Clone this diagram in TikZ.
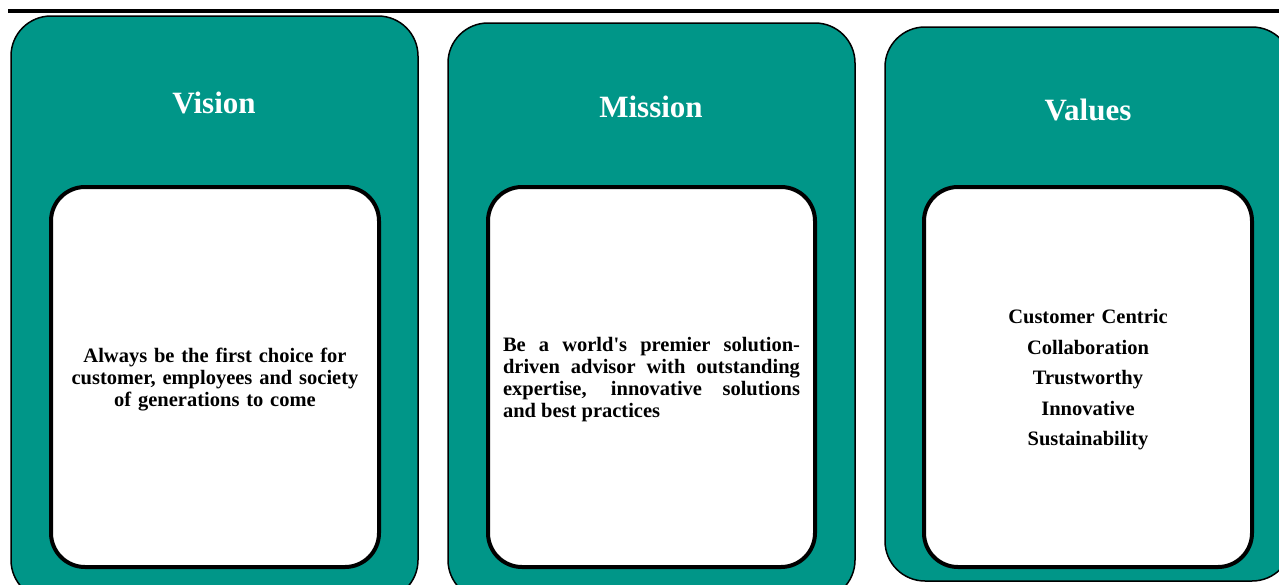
\documentclass[tikz,border=0pt]{standalone}
\usepackage{fontspec}
\setmainfont{Liberation Serif}
\definecolor{teal}{RGB}{0,150,136}
\tikzset{
  outerbox/.style={draw=black, line width=1.5pt, fill=teal, rounded corners=40pt},
  innerbox/.style={draw=black, line width=4pt, fill=white, rounded corners=34pt},
  title/.style={text=white, font=\fontsize{31}{36}\selectfont\bfseries},
  body/.style={font=\fontsize{20.5}{22}\selectfont\bfseries, text width=310pt}
}
\begin{document}
\begin{tikzpicture}[x=1pt,y=-1pt]
\useasboundingbox (0,0) rectangle (1279,584);
\clip (0,0) rectangle (1279,584);
\fill[white] (0,0) rectangle (1279,584);
% top rule
\draw[line width=4pt] (8,11) coordinate (rulel) -- (1279,11) coordinate (ruler);
% outer panels
\draw[outerbox] (11,16) rectangle (418,600);
\draw[outerbox] (448,23) rectangle (855,600);
\draw[outerbox] (885,27) rectangle (1292,581);
% inner panels
\draw[innerbox] (51,187) rectangle (379,567);
\draw[innerbox] (488,187) rectangle (815,567);
\draw[innerbox] (924,187) rectangle (1252,567);
% titles
\node[title] (vision) at (214,103) {Vision};
\node[title] (mission) at (651,107) {Mission};
\node[title] (values) at (1088,110) {Values};
% texts
\node[body, align=center] (visiontext) at (215,380) {Always be the first choice for\\customer, employees and society\\of generations to come};
\node[body, align=justify, text width=297pt] (missiontext) at (651.5,379.5) {Be a world\textquotesingle s premier solution-\linebreak driven advisor with outstanding\linebreak expertise, innovative solutions\linebreak and best practices};
\node[body, align=center, font=\fontsize{20.5}{30.5}\selectfont\bfseries] (valuestext) at (1088,380) {Customer Centric\\Collaboration\\Trustworthy\\Innovative\\Sustainability};
\end{tikzpicture}
\end{document}
